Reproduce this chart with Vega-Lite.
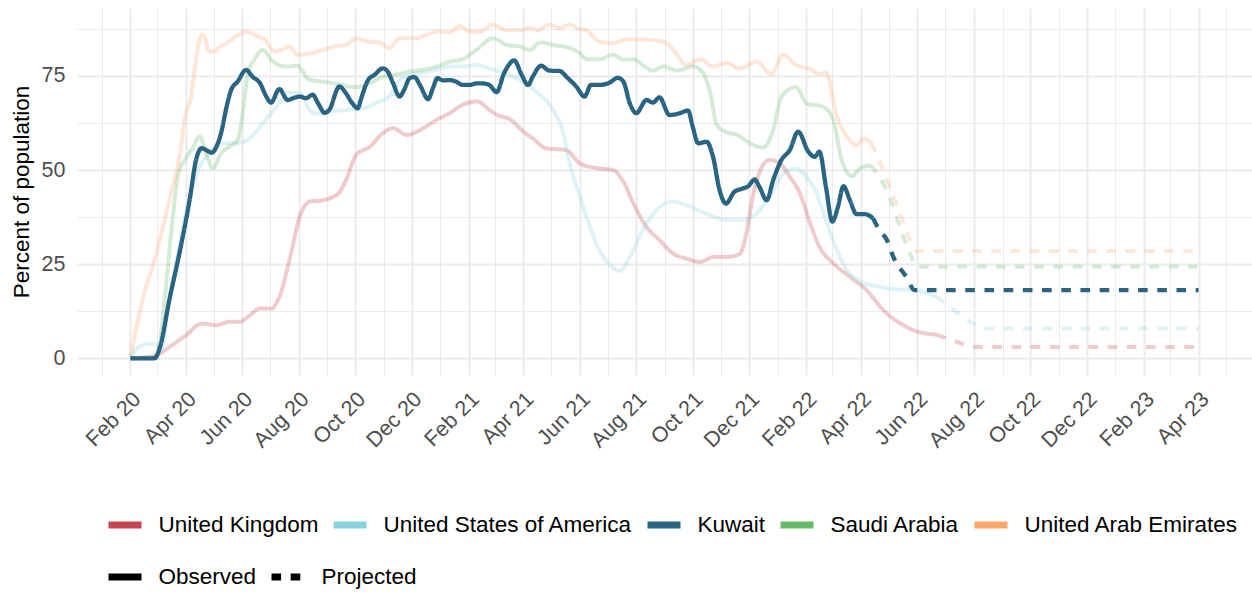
{
  "$schema": "https://vega.github.io/schema/vega-lite/v6.json",
  "width": 1175,
  "height": 367,
  "autosize": {"type": "none"},
  "padding": {"left": 77, "top": 8, "right": 0, "bottom": 218},
  "background": "white",
  "config": {
    "view": {"stroke": null},
    "font": "Liberation Sans",
    "axis": {"domain": false, "ticks": false, "gridColor": "#EBEBEB", "labelFont": "Liberation Sans", "labelFontSize": 21.5, "labelColor": "#4D4D4D", "titleFont": "Liberation Sans", "titleFontSize": 22.5, "titleFontWeight": "normal", "titleColor": "black"},
    "legend": {"labelFont": "Liberation Sans", "labelFontSize": 22.5, "labelColor": "black", "labelLimit": 500, "padding": 0, "symbolType": "stroke", "symbolSize": 1089, "symbolStrokeWidth": 7, "labelOffset": 13.5, "columnPadding": 0, "symbolOpacity": 1}
  },
  "data": {"values": [
    {"country":"United Kingdom","status":"Observed","date":"2020-02-01","value":0},
    {"country":"United Kingdom","status":"Observed","date":"2020-02-29","value":0.8},
    {"country":"United Kingdom","status":"Observed","date":"2020-03-14","value":3},
    {"country":"United Kingdom","status":"Observed","date":"2020-04-01","value":6.1},
    {"country":"United Kingdom","status":"Observed","date":"2020-04-18","value":9.2},
    {"country":"United Kingdom","status":"Observed","date":"2020-05-04","value":8.8},
    {"country":"United Kingdom","status":"Observed","date":"2020-05-18","value":9.7},
    {"country":"United Kingdom","status":"Observed","date":"2020-05-29","value":9.7},
    {"country":"United Kingdom","status":"Observed","date":"2020-06-09","value":11.4},
    {"country":"United Kingdom","status":"Observed","date":"2020-06-20","value":13.2},
    {"country":"United Kingdom","status":"Observed","date":"2020-07-02","value":13.2},
    {"country":"United Kingdom","status":"Observed","date":"2020-07-11","value":16.3},
    {"country":"United Kingdom","status":"Observed","date":"2020-07-22","value":26.1},
    {"country":"United Kingdom","status":"Observed","date":"2020-08-02","value":37.6},
    {"country":"United Kingdom","status":"Observed","date":"2020-08-13","value":41.6},
    {"country":"United Kingdom","status":"Observed","date":"2020-08-27","value":42},
    {"country":"United Kingdom","status":"Observed","date":"2020-09-13","value":43.8},
    {"country":"United Kingdom","status":"Observed","date":"2020-09-21","value":47.3},
    {"country":"United Kingdom","status":"Observed","date":"2020-10-02","value":54},
    {"country":"United Kingdom","status":"Observed","date":"2020-10-17","value":56.2},
    {"country":"United Kingdom","status":"Observed","date":"2020-10-31","value":59.8},
    {"country":"United Kingdom","status":"Observed","date":"2020-11-11","value":61.1},
    {"country":"United Kingdom","status":"Observed","date":"2020-11-26","value":59.3},
    {"country":"United Kingdom","status":"Observed","date":"2020-12-10","value":60.6},
    {"country":"United Kingdom","status":"Observed","date":"2020-12-28","value":63.3},
    {"country":"United Kingdom","status":"Observed","date":"2021-01-11","value":65.1},
    {"country":"United Kingdom","status":"Observed","date":"2021-01-25","value":67.3},
    {"country":"United Kingdom","status":"Observed","date":"2021-02-10","value":68.2},
    {"country":"United Kingdom","status":"Observed","date":"2021-02-23","value":66},
    {"country":"United Kingdom","status":"Observed","date":"2021-03-04","value":64.6},
    {"country":"United Kingdom","status":"Observed","date":"2021-03-17","value":63.5},
    {"country":"United Kingdom","status":"Observed","date":"2021-04-01","value":60.2},
    {"country":"United Kingdom","status":"Observed","date":"2021-04-11","value":58.4},
    {"country":"United Kingdom","status":"Observed","date":"2021-04-25","value":55.8},
    {"country":"United Kingdom","status":"Observed","date":"2021-05-17","value":55.3},
    {"country":"United Kingdom","status":"Observed","date":"2021-06-01","value":51.8},
    {"country":"United Kingdom","status":"Observed","date":"2021-06-22","value":50.4},
    {"country":"United Kingdom","status":"Observed","date":"2021-07-07","value":50},
    {"country":"United Kingdom","status":"Observed","date":"2021-07-18","value":46.9},
    {"country":"United Kingdom","status":"Observed","date":"2021-07-29","value":41.1},
    {"country":"United Kingdom","status":"Observed","date":"2021-08-12","value":34.9},
    {"country":"United Kingdom","status":"Observed","date":"2021-08-26","value":31.4},
    {"country":"United Kingdom","status":"Observed","date":"2021-09-10","value":27.8},
    {"country":"United Kingdom","status":"Observed","date":"2021-09-24","value":26.5},
    {"country":"United Kingdom","status":"Observed","date":"2021-10-09","value":25.6},
    {"country":"United Kingdom","status":"Observed","date":"2021-10-23","value":26.9},
    {"country":"United Kingdom","status":"Observed","date":"2021-11-07","value":26.9},
    {"country":"United Kingdom","status":"Observed","date":"2021-11-21","value":27.8},
    {"country":"United Kingdom","status":"Observed","date":"2021-11-28","value":33.2},
    {"country":"United Kingdom","status":"Observed","date":"2021-12-05","value":42.9},
    {"country":"United Kingdom","status":"Observed","date":"2021-12-15","value":50.9},
    {"country":"United Kingdom","status":"Observed","date":"2021-12-23","value":52.7},
    {"country":"United Kingdom","status":"Observed","date":"2022-01-03","value":51.8},
    {"country":"United Kingdom","status":"Observed","date":"2022-01-14","value":48.2},
    {"country":"United Kingdom","status":"Observed","date":"2022-01-25","value":43.8},
    {"country":"United Kingdom","status":"Observed","date":"2022-02-05","value":35.8},
    {"country":"United Kingdom","status":"Observed","date":"2022-02-15","value":29.6},
    {"country":"United Kingdom","status":"Observed","date":"2022-03-02","value":25.2},
    {"country":"United Kingdom","status":"Observed","date":"2022-03-20","value":21.6},
    {"country":"United Kingdom","status":"Observed","date":"2022-04-07","value":18.1},
    {"country":"United Kingdom","status":"Observed","date":"2022-04-25","value":12.8},
    {"country":"United Kingdom","status":"Observed","date":"2022-05-17","value":8.8},
    {"country":"United Kingdom","status":"Observed","date":"2022-06-02","value":7},
    {"country":"United Kingdom","status":"Observed","date":"2022-06-22","value":6.3},
    {"country":"United Kingdom","status":"Projected","date":"2022-06-22","value":6.3},
    {"country":"United Kingdom","status":"Projected","date":"2022-07-13","value":4.4},
    {"country":"United Kingdom","status":"Projected","date":"2022-08-04","value":3.0},
    {"country":"United Kingdom","status":"Projected","date":"2023-04-01","value":3.0},

    {"country":"United States of America","status":"Observed","date":"2020-02-01","value":0.3},
    {"country":"United States of America","status":"Observed","date":"2020-02-14","value":3.5},
    {"country":"United States of America","status":"Observed","date":"2020-02-27","value":3.9},
    {"country":"United States of America","status":"Observed","date":"2020-03-05","value":2.1},
    {"country":"United States of America","status":"Observed","date":"2020-03-14","value":15.4},
    {"country":"United States of America","status":"Observed","date":"2020-03-25","value":29.6},
    {"country":"United States of America","status":"Observed","date":"2020-04-05","value":42.9},
    {"country":"United States of America","status":"Observed","date":"2020-04-16","value":50.9},
    {"country":"United States of America","status":"Observed","date":"2020-04-26","value":54.4},
    {"country":"United States of America","status":"Observed","date":"2020-05-11","value":57.1},
    {"country":"United States of America","status":"Observed","date":"2020-05-26","value":57.1},
    {"country":"United States of America","status":"Observed","date":"2020-06-09","value":58.4},
    {"country":"United States of America","status":"Observed","date":"2020-06-23","value":62.4},
    {"country":"United States of America","status":"Observed","date":"2020-07-08","value":66.8},
    {"country":"United States of America","status":"Observed","date":"2020-07-22","value":70.6},
    {"country":"United States of America","status":"Observed","date":"2020-08-02","value":70.4},
    {"country":"United States of America","status":"Observed","date":"2020-08-13","value":66},
    {"country":"United States of America","status":"Observed","date":"2020-08-20","value":64.9},
    {"country":"United States of America","status":"Observed","date":"2020-09-03","value":65.5},
    {"country":"United States of America","status":"Observed","date":"2020-09-21","value":66},
    {"country":"United States of America","status":"Observed","date":"2020-10-10","value":66.4},
    {"country":"United States of America","status":"Observed","date":"2020-10-27","value":68.2},
    {"country":"United States of America","status":"Observed","date":"2020-11-07","value":69.5},
    {"country":"United States of America","status":"Observed","date":"2020-11-14","value":72.6},
    {"country":"United States of America","status":"Observed","date":"2020-11-29","value":75.3},
    {"country":"United States of America","status":"Observed","date":"2020-12-13","value":75.8},
    {"country":"United States of America","status":"Observed","date":"2020-12-28","value":76.6},
    {"country":"United States of America","status":"Observed","date":"2021-01-11","value":77.5},
    {"country":"United States of America","status":"Observed","date":"2021-01-25","value":77.5},
    {"country":"United States of America","status":"Observed","date":"2021-02-09","value":77.9},
    {"country":"United States of America","status":"Observed","date":"2021-02-23","value":77},
    {"country":"United States of America","status":"Observed","date":"2021-03-10","value":75.8},
    {"country":"United States of America","status":"Observed","date":"2021-03-28","value":73.9},
    {"country":"United States of America","status":"Observed","date":"2021-04-19","value":69.9},
    {"country":"United States of America","status":"Observed","date":"2021-05-03","value":66},
    {"country":"United States of America","status":"Observed","date":"2021-05-14","value":59.8},
    {"country":"United States of America","status":"Observed","date":"2021-05-21","value":51.8},
    {"country":"United States of America","status":"Observed","date":"2021-06-01","value":42.9},
    {"country":"United States of America","status":"Observed","date":"2021-06-12","value":34.9},
    {"country":"United States of America","status":"Observed","date":"2021-06-22","value":28.7},
    {"country":"United States of America","status":"Observed","date":"2021-07-04","value":24.7},
    {"country":"United States of America","status":"Observed","date":"2021-07-14","value":23.2},
    {"country":"United States of America","status":"Observed","date":"2021-07-25","value":26.9},
    {"country":"United States of America","status":"Observed","date":"2021-08-08","value":34},
    {"country":"United States of America","status":"Observed","date":"2021-08-23","value":39.4},
    {"country":"United States of America","status":"Observed","date":"2021-09-10","value":41.6},
    {"country":"United States of America","status":"Observed","date":"2021-09-24","value":40.7},
    {"country":"United States of America","status":"Observed","date":"2021-10-15","value":38.5},
    {"country":"United States of America","status":"Observed","date":"2021-11-07","value":36.7},
    {"country":"United States of America","status":"Observed","date":"2021-11-25","value":36.7},
    {"country":"United States of America","status":"Observed","date":"2021-12-09","value":38.5},
    {"country":"United States of America","status":"Observed","date":"2021-12-23","value":42.9},
    {"country":"United States of America","status":"Observed","date":"2022-01-07","value":49.1},
    {"country":"United States of America","status":"Observed","date":"2022-01-20","value":50.4},
    {"country":"United States of America","status":"Observed","date":"2022-02-01","value":48.2},
    {"country":"United States of America","status":"Observed","date":"2022-02-12","value":43.8},
    {"country":"United States of America","status":"Observed","date":"2022-02-22","value":36.7},
    {"country":"United States of America","status":"Observed","date":"2022-03-06","value":28.7},
    {"country":"United States of America","status":"Observed","date":"2022-03-17","value":23.4},
    {"country":"United States of America","status":"Observed","date":"2022-03-31","value":20.5},
    {"country":"United States of America","status":"Observed","date":"2022-04-21","value":19},
    {"country":"United States of America","status":"Observed","date":"2022-05-09","value":18.3},
    {"country":"United States of America","status":"Observed","date":"2022-05-29","value":18.1},
    {"country":"United States of America","status":"Observed","date":"2022-06-22","value":16.3},
    {"country":"United States of America","status":"Projected","date":"2022-06-22","value":16.3},
    {"country":"United States of America","status":"Projected","date":"2022-07-13","value":12.3},
    {"country":"United States of America","status":"Projected","date":"2022-08-04","value":8.8},
    {"country":"United States of America","status":"Projected","date":"2022-08-15","value":7.9},
    {"country":"United States of America","status":"Projected","date":"2023-04-01","value":7.9},

    {"country":"Kuwait","status":"Observed","date":"2020-02-01","value":0},
    {"country":"Kuwait","status":"Observed","date":"2020-02-27","value":0},
    {"country":"Kuwait","status":"Observed","date":"2020-03-04","value":3},
    {"country":"Kuwait","status":"Observed","date":"2020-03-14","value":15.4},
    {"country":"Kuwait","status":"Observed","date":"2020-03-25","value":27.9},
    {"country":"Kuwait","status":"Observed","date":"2020-04-05","value":42},
    {"country":"Kuwait","status":"Observed","date":"2020-04-12","value":52.7},
    {"country":"Kuwait","status":"Observed","date":"2020-04-18","value":55.8},
    {"country":"Kuwait","status":"Observed","date":"2020-04-23","value":55.3},
    {"country":"Kuwait","status":"Observed","date":"2020-04-29","value":54.6},
    {"country":"Kuwait","status":"Observed","date":"2020-05-04","value":56.2},
    {"country":"Kuwait","status":"Observed","date":"2020-05-09","value":59.8},
    {"country":"Kuwait","status":"Observed","date":"2020-05-15","value":66.8},
    {"country":"Kuwait","status":"Observed","date":"2020-05-20","value":71.3},
    {"country":"Kuwait","status":"Observed","date":"2020-05-27","value":73.5},
    {"country":"Kuwait","status":"Observed","date":"2020-06-05","value":76.6},
    {"country":"Kuwait","status":"Observed","date":"2020-06-12","value":74.8},
    {"country":"Kuwait","status":"Observed","date":"2020-06-20","value":73.1},
    {"country":"Kuwait","status":"Observed","date":"2020-06-27","value":69.5},
    {"country":"Kuwait","status":"Observed","date":"2020-07-02","value":67.9},
    {"country":"Kuwait","status":"Observed","date":"2020-07-11","value":71.5},
    {"country":"Kuwait","status":"Observed","date":"2020-07-20","value":68.6},
    {"country":"Kuwait","status":"Observed","date":"2020-07-26","value":69.1},
    {"country":"Kuwait","status":"Observed","date":"2020-08-02","value":69.5},
    {"country":"Kuwait","status":"Observed","date":"2020-08-09","value":69.1},
    {"country":"Kuwait","status":"Observed","date":"2020-08-16","value":70},
    {"country":"Kuwait","status":"Observed","date":"2020-08-22","value":67.7},
    {"country":"Kuwait","status":"Observed","date":"2020-08-29","value":65.2},
    {"country":"Kuwait","status":"Observed","date":"2020-09-03","value":66},
    {"country":"Kuwait","status":"Observed","date":"2020-09-14","value":72.2},
    {"country":"Kuwait","status":"Observed","date":"2020-09-21","value":70.4},
    {"country":"Kuwait","status":"Observed","date":"2020-09-28","value":67.7},
    {"country":"Kuwait","status":"Observed","date":"2020-10-04","value":66.4},
    {"country":"Kuwait","status":"Observed","date":"2020-10-07","value":68.6},
    {"country":"Kuwait","status":"Observed","date":"2020-10-15","value":73.9},
    {"country":"Kuwait","status":"Observed","date":"2020-10-22","value":75.3},
    {"country":"Kuwait","status":"Observed","date":"2020-10-31","value":77},
    {"country":"Kuwait","status":"Observed","date":"2020-11-05","value":76.2},
    {"country":"Kuwait","status":"Observed","date":"2020-11-11","value":73.1},
    {"country":"Kuwait","status":"Observed","date":"2020-11-18","value":69.5},
    {"country":"Kuwait","status":"Observed","date":"2020-11-23","value":71.3},
    {"country":"Kuwait","status":"Observed","date":"2020-11-29","value":74.4},
    {"country":"Kuwait","status":"Observed","date":"2020-12-04","value":74.7},
    {"country":"Kuwait","status":"Observed","date":"2020-12-10","value":72.6},
    {"country":"Kuwait","status":"Observed","date":"2020-12-19","value":68.8},
    {"country":"Kuwait","status":"Observed","date":"2020-12-24","value":71.7},
    {"country":"Kuwait","status":"Observed","date":"2020-12-29","value":74.4},
    {"country":"Kuwait","status":"Observed","date":"2021-01-04","value":73.8},
    {"country":"Kuwait","status":"Observed","date":"2021-01-11","value":73.9},
    {"country":"Kuwait","status":"Observed","date":"2021-01-18","value":73.5},
    {"country":"Kuwait","status":"Observed","date":"2021-01-25","value":72.6},
    {"country":"Kuwait","status":"Observed","date":"2021-02-02","value":72.6},
    {"country":"Kuwait","status":"Observed","date":"2021-02-09","value":73},
    {"country":"Kuwait","status":"Observed","date":"2021-02-16","value":73},
    {"country":"Kuwait","status":"Observed","date":"2021-02-23","value":72.6},
    {"country":"Kuwait","status":"Observed","date":"2021-03-03","value":70.7},
    {"country":"Kuwait","status":"Observed","date":"2021-03-11","value":75.7},
    {"country":"Kuwait","status":"Observed","date":"2021-03-22","value":79.1},
    {"country":"Kuwait","status":"Observed","date":"2021-03-30","value":75.3},
    {"country":"Kuwait","status":"Observed","date":"2021-04-06","value":72.6},
    {"country":"Kuwait","status":"Observed","date":"2021-04-11","value":74.8},
    {"country":"Kuwait","status":"Observed","date":"2021-04-20","value":77.7},
    {"country":"Kuwait","status":"Observed","date":"2021-04-29","value":76.4},
    {"country":"Kuwait","status":"Observed","date":"2021-05-10","value":76.3},
    {"country":"Kuwait","status":"Observed","date":"2021-05-19","value":74.4},
    {"country":"Kuwait","status":"Observed","date":"2021-05-28","value":72.2},
    {"country":"Kuwait","status":"Observed","date":"2021-06-06","value":69.5},
    {"country":"Kuwait","status":"Observed","date":"2021-06-13","value":72.6},
    {"country":"Kuwait","status":"Observed","date":"2021-06-22","value":72.6},
    {"country":"Kuwait","status":"Observed","date":"2021-07-03","value":73.2},
    {"country":"Kuwait","status":"Observed","date":"2021-07-12","value":74.5},
    {"country":"Kuwait","status":"Observed","date":"2021-07-18","value":73.5},
    {"country":"Kuwait","status":"Observed","date":"2021-07-25","value":67.7},
    {"country":"Kuwait","status":"Observed","date":"2021-08-01","value":65.1},
    {"country":"Kuwait","status":"Observed","date":"2021-08-12","value":68.6},
    {"country":"Kuwait","status":"Observed","date":"2021-08-19","value":67.9},
    {"country":"Kuwait","status":"Observed","date":"2021-08-26","value":69.3},
    {"country":"Kuwait","status":"Observed","date":"2021-09-06","value":64.6},
    {"country":"Kuwait","status":"Observed","date":"2021-09-17","value":65.1},
    {"country":"Kuwait","status":"Observed","date":"2021-09-26","value":65.8},
    {"country":"Kuwait","status":"Observed","date":"2021-10-01","value":61.5},
    {"country":"Kuwait","status":"Observed","date":"2021-10-07","value":57.1},
    {"country":"Kuwait","status":"Observed","date":"2021-10-16","value":57.5},
    {"country":"Kuwait","status":"Observed","date":"2021-10-23","value":53.5},
    {"country":"Kuwait","status":"Observed","date":"2021-10-30","value":44.7},
    {"country":"Kuwait","status":"Observed","date":"2021-11-06","value":41.1},
    {"country":"Kuwait","status":"Observed","date":"2021-11-15","value":44.2},
    {"country":"Kuwait","status":"Observed","date":"2021-11-24","value":45.1},
    {"country":"Kuwait","status":"Observed","date":"2021-11-30","value":45.7},
    {"country":"Kuwait","status":"Observed","date":"2021-12-07","value":47.5},
    {"country":"Kuwait","status":"Observed","date":"2021-12-12","value":45.6},
    {"country":"Kuwait","status":"Observed","date":"2021-12-20","value":42},
    {"country":"Kuwait","status":"Observed","date":"2021-12-27","value":47.3},
    {"country":"Kuwait","status":"Observed","date":"2022-01-05","value":52.7},
    {"country":"Kuwait","status":"Observed","date":"2022-01-14","value":55.3},
    {"country":"Kuwait","status":"Observed","date":"2022-01-23","value":60.2},
    {"country":"Kuwait","status":"Observed","date":"2022-02-03","value":54.9},
    {"country":"Kuwait","status":"Observed","date":"2022-02-10","value":53.5},
    {"country":"Kuwait","status":"Observed","date":"2022-02-15","value":54.9},
    {"country":"Kuwait","status":"Observed","date":"2022-02-22","value":45.6},
    {"country":"Kuwait","status":"Observed","date":"2022-03-01","value":36.3},
    {"country":"Kuwait","status":"Observed","date":"2022-03-07","value":40.2},
    {"country":"Kuwait","status":"Observed","date":"2022-03-13","value":45.7},
    {"country":"Kuwait","status":"Observed","date":"2022-03-20","value":42},
    {"country":"Kuwait","status":"Observed","date":"2022-03-27","value":38.3},
    {"country":"Kuwait","status":"Observed","date":"2022-04-05","value":38.3},
    {"country":"Kuwait","status":"Observed","date":"2022-04-14","value":37.2},
    {"country":"Kuwait","status":"Projected","date":"2022-04-14","value":37.2},
    {"country":"Kuwait","status":"Projected","date":"2022-04-21","value":34},
    {"country":"Kuwait","status":"Projected","date":"2022-04-29","value":31.4},
    {"country":"Kuwait","status":"Projected","date":"2022-05-06","value":26.9},
    {"country":"Kuwait","status":"Projected","date":"2022-05-20","value":21.6},
    {"country":"Kuwait","status":"Projected","date":"2022-05-29","value":18.1},
    {"country":"Kuwait","status":"Projected","date":"2023-04-01","value":18.1},

    {"country":"Saudi Arabia","status":"Observed","date":"2020-02-01","value":0},
    {"country":"Saudi Arabia","status":"Observed","date":"2020-02-29","value":0.3},
    {"country":"Saudi Arabia","status":"Observed","date":"2020-03-09","value":15.4},
    {"country":"Saudi Arabia","status":"Observed","date":"2020-03-16","value":33.2},
    {"country":"Saudi Arabia","status":"Observed","date":"2020-03-24","value":49.1},
    {"country":"Saudi Arabia","status":"Observed","date":"2020-03-31","value":52.7},
    {"country":"Saudi Arabia","status":"Observed","date":"2020-04-09","value":56.2},
    {"country":"Saudi Arabia","status":"Observed","date":"2020-04-16","value":58.9},
    {"country":"Saudi Arabia","status":"Observed","date":"2020-04-23","value":54.4},
    {"country":"Saudi Arabia","status":"Observed","date":"2020-04-30","value":50.4},
    {"country":"Saudi Arabia","status":"Observed","date":"2020-05-09","value":54.4},
    {"country":"Saudi Arabia","status":"Observed","date":"2020-05-18","value":56.2},
    {"country":"Saudi Arabia","status":"Observed","date":"2020-05-27","value":58},
    {"country":"Saudi Arabia","status":"Observed","date":"2020-06-02","value":66},
    {"country":"Saudi Arabia","status":"Observed","date":"2020-06-07","value":75.7},
    {"country":"Saudi Arabia","status":"Observed","date":"2020-06-14","value":79.3},
    {"country":"Saudi Arabia","status":"Observed","date":"2020-06-23","value":81.9},
    {"country":"Saudi Arabia","status":"Observed","date":"2020-07-04","value":78.8},
    {"country":"Saudi Arabia","status":"Observed","date":"2020-07-19","value":77.5},
    {"country":"Saudi Arabia","status":"Observed","date":"2020-07-30","value":77.7},
    {"country":"Saudi Arabia","status":"Observed","date":"2020-08-13","value":73.9},
    {"country":"Saudi Arabia","status":"Observed","date":"2020-08-27","value":73.5},
    {"country":"Saudi Arabia","status":"Observed","date":"2020-09-17","value":72.6},
    {"country":"Saudi Arabia","status":"Observed","date":"2020-10-02","value":72},
    {"country":"Saudi Arabia","status":"Observed","date":"2020-10-17","value":73.1},
    {"country":"Saudi Arabia","status":"Observed","date":"2020-10-31","value":74.8},
    {"country":"Saudi Arabia","status":"Observed","date":"2020-11-14","value":75.3},
    {"country":"Saudi Arabia","status":"Observed","date":"2020-11-29","value":76.2},
    {"country":"Saudi Arabia","status":"Observed","date":"2020-12-13","value":76.6},
    {"country":"Saudi Arabia","status":"Observed","date":"2020-12-28","value":77.5},
    {"country":"Saudi Arabia","status":"Observed","date":"2021-01-11","value":78.8},
    {"country":"Saudi Arabia","status":"Observed","date":"2021-01-25","value":79.4},
    {"country":"Saudi Arabia","status":"Observed","date":"2021-02-09","value":81.9},
    {"country":"Saudi Arabia","status":"Observed","date":"2021-02-27","value":85},
    {"country":"Saudi Arabia","status":"Observed","date":"2021-03-14","value":83.2},
    {"country":"Saudi Arabia","status":"Observed","date":"2021-03-28","value":82.8},
    {"country":"Saudi Arabia","status":"Observed","date":"2021-04-08","value":81.9},
    {"country":"Saudi Arabia","status":"Observed","date":"2021-04-19","value":83.9},
    {"country":"Saudi Arabia","status":"Observed","date":"2021-05-03","value":83.2},
    {"country":"Saudi Arabia","status":"Observed","date":"2021-05-21","value":82.4},
    {"country":"Saudi Arabia","status":"Observed","date":"2021-06-01","value":81},
    {"country":"Saudi Arabia","status":"Observed","date":"2021-06-08","value":79.4},
    {"country":"Saudi Arabia","status":"Observed","date":"2021-06-22","value":79.4},
    {"country":"Saudi Arabia","status":"Observed","date":"2021-07-07","value":80.6},
    {"country":"Saudi Arabia","status":"Observed","date":"2021-07-18","value":79.3},
    {"country":"Saudi Arabia","status":"Observed","date":"2021-07-29","value":79.4},
    {"country":"Saudi Arabia","status":"Observed","date":"2021-08-08","value":77.9},
    {"country":"Saudi Arabia","status":"Observed","date":"2021-08-19","value":76.4},
    {"country":"Saudi Arabia","status":"Observed","date":"2021-08-30","value":77.5},
    {"country":"Saudi Arabia","status":"Observed","date":"2021-09-14","value":76.4},
    {"country":"Saudi Arabia","status":"Observed","date":"2021-10-01","value":77.5},
    {"country":"Saudi Arabia","status":"Observed","date":"2021-10-11","value":76.2},
    {"country":"Saudi Arabia","status":"Observed","date":"2021-10-20","value":70.4},
    {"country":"Saudi Arabia","status":"Observed","date":"2021-10-27","value":62},
    {"country":"Saudi Arabia","status":"Observed","date":"2021-11-05","value":60.2},
    {"country":"Saudi Arabia","status":"Observed","date":"2021-11-18","value":59.3},
    {"country":"Saudi Arabia","status":"Observed","date":"2021-12-02","value":57.1},
    {"country":"Saudi Arabia","status":"Observed","date":"2021-12-16","value":56},
    {"country":"Saudi Arabia","status":"Observed","date":"2021-12-27","value":60.6},
    {"country":"Saudi Arabia","status":"Observed","date":"2022-01-05","value":69.5},
    {"country":"Saudi Arabia","status":"Observed","date":"2022-01-21","value":72},
    {"country":"Saudi Arabia","status":"Observed","date":"2022-02-01","value":67.7},
    {"country":"Saudi Arabia","status":"Observed","date":"2022-02-19","value":66.8},
    {"country":"Saudi Arabia","status":"Observed","date":"2022-03-02","value":63.3},
    {"country":"Saudi Arabia","status":"Observed","date":"2022-03-11","value":52.7},
    {"country":"Saudi Arabia","status":"Observed","date":"2022-03-22","value":48.4},
    {"country":"Saudi Arabia","status":"Observed","date":"2022-03-31","value":50.4},
    {"country":"Saudi Arabia","status":"Observed","date":"2022-04-11","value":51.3},
    {"country":"Saudi Arabia","status":"Projected","date":"2022-04-11","value":51.3},
    {"country":"Saudi Arabia","status":"Projected","date":"2022-04-21","value":48.2},
    {"country":"Saudi Arabia","status":"Projected","date":"2022-05-03","value":42},
    {"country":"Saudi Arabia","status":"Projected","date":"2022-05-13","value":34.9},
    {"country":"Saudi Arabia","status":"Projected","date":"2022-05-24","value":27.8},
    {"country":"Saudi Arabia","status":"Projected","date":"2022-05-31","value":24.3},
    {"country":"Saudi Arabia","status":"Projected","date":"2023-04-01","value":24.3},

    {"country":"United Arab Emirates","status":"Observed","date":"2020-02-01","value":0.3},
    {"country":"United Arab Emirates","status":"Observed","date":"2020-02-14","value":15.4},
    {"country":"United Arab Emirates","status":"Observed","date":"2020-02-29","value":27.8},
    {"country":"United Arab Emirates","status":"Observed","date":"2020-03-14","value":42},
    {"country":"United Arab Emirates","status":"Observed","date":"2020-03-25","value":53.5},
    {"country":"United Arab Emirates","status":"Observed","date":"2020-04-01","value":65.1},
    {"country":"United Arab Emirates","status":"Observed","date":"2020-04-06","value":68.6},
    {"country":"United Arab Emirates","status":"Observed","date":"2020-04-12","value":79.3},
    {"country":"United Arab Emirates","status":"Observed","date":"2020-04-18","value":85.9},
    {"country":"United Arab Emirates","status":"Observed","date":"2020-04-21","value":85.5},
    {"country":"United Arab Emirates","status":"Observed","date":"2020-04-26","value":81.5},
    {"country":"United Arab Emirates","status":"Observed","date":"2020-05-02","value":81.5},
    {"country":"United Arab Emirates","status":"Observed","date":"2020-05-08","value":82.8},
    {"country":"United Arab Emirates","status":"Observed","date":"2020-05-15","value":83.7},
    {"country":"United Arab Emirates","status":"Observed","date":"2020-05-26","value":85.6},
    {"country":"United Arab Emirates","status":"Observed","date":"2020-06-05","value":86.8},
    {"country":"United Arab Emirates","status":"Observed","date":"2020-06-16","value":85.6},
    {"country":"United Arab Emirates","status":"Observed","date":"2020-06-25","value":84.7},
    {"country":"United Arab Emirates","status":"Observed","date":"2020-07-06","value":81.5},
    {"country":"United Arab Emirates","status":"Observed","date":"2020-07-13","value":81.9},
    {"country":"United Arab Emirates","status":"Observed","date":"2020-07-22","value":82.8},
    {"country":"United Arab Emirates","status":"Observed","date":"2020-07-31","value":80.6},
    {"country":"United Arab Emirates","status":"Observed","date":"2020-08-13","value":81},
    {"country":"United Arab Emirates","status":"Observed","date":"2020-08-27","value":81.9},
    {"country":"United Arab Emirates","status":"Observed","date":"2020-09-10","value":82.9},
    {"country":"United Arab Emirates","status":"Observed","date":"2020-09-21","value":83.2},
    {"country":"United Arab Emirates","status":"Observed","date":"2020-10-02","value":85},
    {"country":"United Arab Emirates","status":"Observed","date":"2020-10-15","value":84.1},
    {"country":"United Arab Emirates","status":"Observed","date":"2020-10-27","value":83.9},
    {"country":"United Arab Emirates","status":"Observed","date":"2020-11-07","value":82.4},
    {"country":"United Arab Emirates","status":"Observed","date":"2020-11-18","value":85},
    {"country":"United Arab Emirates","status":"Observed","date":"2020-12-06","value":85},
    {"country":"United Arab Emirates","status":"Observed","date":"2020-12-17","value":85.9},
    {"country":"United Arab Emirates","status":"Observed","date":"2020-12-31","value":86.8},
    {"country":"United Arab Emirates","status":"Observed","date":"2021-01-11","value":86.6},
    {"country":"United Arab Emirates","status":"Observed","date":"2021-01-22","value":88.2},
    {"country":"United Arab Emirates","status":"Observed","date":"2021-02-02","value":86.8},
    {"country":"United Arab Emirates","status":"Observed","date":"2021-02-13","value":86.8},
    {"country":"United Arab Emirates","status":"Observed","date":"2021-02-27","value":88.6},
    {"country":"United Arab Emirates","status":"Observed","date":"2021-03-14","value":87.1},
    {"country":"United Arab Emirates","status":"Observed","date":"2021-03-28","value":87.1},
    {"country":"United Arab Emirates","status":"Observed","date":"2021-04-08","value":87.7},
    {"country":"United Arab Emirates","status":"Observed","date":"2021-04-17","value":87.1},
    {"country":"United Arab Emirates","status":"Observed","date":"2021-04-29","value":88.6},
    {"country":"United Arab Emirates","status":"Observed","date":"2021-05-10","value":87.7},
    {"country":"United Arab Emirates","status":"Observed","date":"2021-05-21","value":88.6},
    {"country":"United Arab Emirates","status":"Observed","date":"2021-06-01","value":87.4},
    {"country":"United Arab Emirates","status":"Observed","date":"2021-06-08","value":87.1},
    {"country":"United Arab Emirates","status":"Observed","date":"2021-06-22","value":84.1},
    {"country":"United Arab Emirates","status":"Observed","date":"2021-07-07","value":83.7},
    {"country":"United Arab Emirates","status":"Observed","date":"2021-07-21","value":84.7},
    {"country":"United Arab Emirates","status":"Observed","date":"2021-08-12","value":84.6},
    {"country":"United Arab Emirates","status":"Observed","date":"2021-08-30","value":84.1},
    {"country":"United Arab Emirates","status":"Observed","date":"2021-09-10","value":81.9},
    {"country":"United Arab Emirates","status":"Observed","date":"2021-09-24","value":77.9},
    {"country":"United Arab Emirates","status":"Observed","date":"2021-10-09","value":79.4},
    {"country":"United Arab Emirates","status":"Observed","date":"2021-10-23","value":77.5},
    {"country":"United Arab Emirates","status":"Observed","date":"2021-11-07","value":78.4},
    {"country":"United Arab Emirates","status":"Observed","date":"2021-11-21","value":77},
    {"country":"United Arab Emirates","status":"Observed","date":"2021-12-09","value":78.8},
    {"country":"United Arab Emirates","status":"Observed","date":"2021-12-25","value":75.5},
    {"country":"United Arab Emirates","status":"Observed","date":"2022-01-07","value":80.6},
    {"country":"United Arab Emirates","status":"Observed","date":"2022-01-21","value":77.9},
    {"country":"United Arab Emirates","status":"Observed","date":"2022-02-05","value":76.8},
    {"country":"United Arab Emirates","status":"Observed","date":"2022-02-15","value":75.5},
    {"country":"United Arab Emirates","status":"Observed","date":"2022-02-22","value":75.9},
    {"country":"United Arab Emirates","status":"Observed","date":"2022-03-06","value":64.2},
    {"country":"United Arab Emirates","status":"Observed","date":"2022-03-17","value":58.9},
    {"country":"United Arab Emirates","status":"Observed","date":"2022-03-27","value":56.6},
    {"country":"United Arab Emirates","status":"Observed","date":"2022-04-04","value":58.4},
    {"country":"United Arab Emirates","status":"Observed","date":"2022-04-12","value":57.1},
    {"country":"United Arab Emirates","status":"Projected","date":"2022-04-12","value":57.1},
    {"country":"United Arab Emirates","status":"Projected","date":"2022-04-16","value":55.3},
    {"country":"United Arab Emirates","status":"Projected","date":"2022-04-29","value":47.3},
    {"country":"United Arab Emirates","status":"Projected","date":"2022-05-13","value":38.5},
    {"country":"United Arab Emirates","status":"Projected","date":"2022-05-24","value":31.4},
    {"country":"United Arab Emirates","status":"Projected","date":"2022-05-31","value":28.5},
    {"country":"United Arab Emirates","status":"Projected","date":"2023-04-01","value":28.5}
  ]},
  "layer": [
    {
      "mark": {"type": "point", "opacity": 0},
      "encoding": {
        "x": {"field": "date", "type": "temporal",
          "scale": {"type": "utc", "nice": false, "domain": [{"year": 2019, "month": 12, "date": 5, "hours": 6, "utc": true}, {"year": 2023, "month": 5, "date": 28, "hours": 18, "utc": true}]},
          "axis": {"orient": "top", "labels": false, "title": null, "grid": true, "gridWidth": 1, "tickCount": {"interval": "month", "step": 1}}},
        "y": {"field": "value", "type": "quantitative",
          "scale": {"domain": [-4.43, 93.03], "nice": false, "zero": false},
          "axis": {"orient": "right", "labels": false, "title": null, "grid": true, "gridWidth": 1, "values": [12.5, 37.5, 62.5, 87.5]}}
      }
    },
    {
      "transform": [{"filter": "datum.country !== 'Kuwait'"}],
      "mark": {"type": "line", "strokeWidth": 4, "strokeOpacity": 0.28, "interpolate": "monotone", "strokeCap": "butt"},
      "encoding": {
        "x": {"field": "date", "type": "temporal",
          "scale": {"type": "utc", "nice": false, "domain": [{"year": 2019, "month": 12, "date": 5, "hours": 6, "utc": true}, {"year": 2023, "month": 5, "date": 28, "hours": 18, "utc": true}]},
          "axis": {"orient": "bottom", "title": null, "grid": true, "gridWidth": 2, "format": "%b %y", "labelAngle": -45, "labelAlign": "right", "labelBaseline": "top", "labelOffset": -1, "labelPadding": 13, "labelOverlap": false, "labelFlush": false, "labelBound": false,
            "values": [
              {"year": 2020, "month": 2, "date": 1, "utc": true}, {"year": 2020, "month": 4, "date": 1, "utc": true}, {"year": 2020, "month": 6, "date": 1, "utc": true}, {"year": 2020, "month": 8, "date": 1, "utc": true}, {"year": 2020, "month": 10, "date": 1, "utc": true}, {"year": 2020, "month": 12, "date": 1, "utc": true},
              {"year": 2021, "month": 2, "date": 1, "utc": true}, {"year": 2021, "month": 4, "date": 1, "utc": true}, {"year": 2021, "month": 6, "date": 1, "utc": true}, {"year": 2021, "month": 8, "date": 1, "utc": true}, {"year": 2021, "month": 10, "date": 1, "utc": true}, {"year": 2021, "month": 12, "date": 1, "utc": true},
              {"year": 2022, "month": 2, "date": 1, "utc": true}, {"year": 2022, "month": 4, "date": 1, "utc": true}, {"year": 2022, "month": 6, "date": 1, "utc": true}, {"year": 2022, "month": 8, "date": 1, "utc": true}, {"year": 2022, "month": 10, "date": 1, "utc": true}, {"year": 2022, "month": 12, "date": 1, "utc": true},
              {"year": 2023, "month": 2, "date": 1, "utc": true}, {"year": 2023, "month": 4, "date": 1, "utc": true}
            ]}},
        "y": {"field": "value", "type": "quantitative",
          "scale": {"domain": [-4.43, 93.03], "nice": false, "zero": false},
          "axis": {"orient": "left", "title": "Percent of population", "grid": true, "gridWidth": 2, "values": [0, 25, 50, 75], "labelPadding": 12, "titlePadding": 8}},
        "color": {"field": "country", "type": "nominal",
          "scale": {"domain": ["United Kingdom", "United States of America", "Kuwait", "Saudi Arabia", "United Arab Emirates"], "range": ["#C8434F", "#86D3DE", "#2A6483", "#66BB6A", "#FFA66D"]},
          "legend": {"title": null, "orient": "none", "direction": "horizontal", "legendX": 28, "legendY": 497, "symbolOpacity": 1}},
        "strokeDash": {"field": "status", "type": "nominal",
          "scale": {"domain": ["Observed", "Projected"], "range": [[1, 0], [9.6, 9.6]]},
          "legend": {"title": null, "orient": "none", "direction": "horizontal", "legendX": 28, "legendY": 549, "symbolStrokeColor": "black", "symbolOpacity": 1}}
      }
    },
    {
      "transform": [{"filter": "datum.country === 'Kuwait'"}],
      "mark": {"type": "line", "strokeWidth": 4.3, "interpolate": "monotone", "strokeCap": "butt"},
      "encoding": {
        "x": {"field": "date", "type": "temporal", "axis": null},
        "y": {"field": "value", "type": "quantitative", "axis": null},
        "color": {"field": "country", "type": "nominal",
          "legend": {"title": null, "orient": "none", "direction": "horizontal", "legendX": 28, "legendY": 497, "symbolOpacity": 1}},
        "strokeDash": {"field": "status", "type": "nominal",
          "legend": {"title": null, "orient": "none", "direction": "horizontal", "legendX": 28, "legendY": 549, "symbolStrokeColor": "black", "symbolOpacity": 1}}
      }
    }
  ],
  "resolve": {"axis": {"x": "independent", "y": "independent"}}
}
